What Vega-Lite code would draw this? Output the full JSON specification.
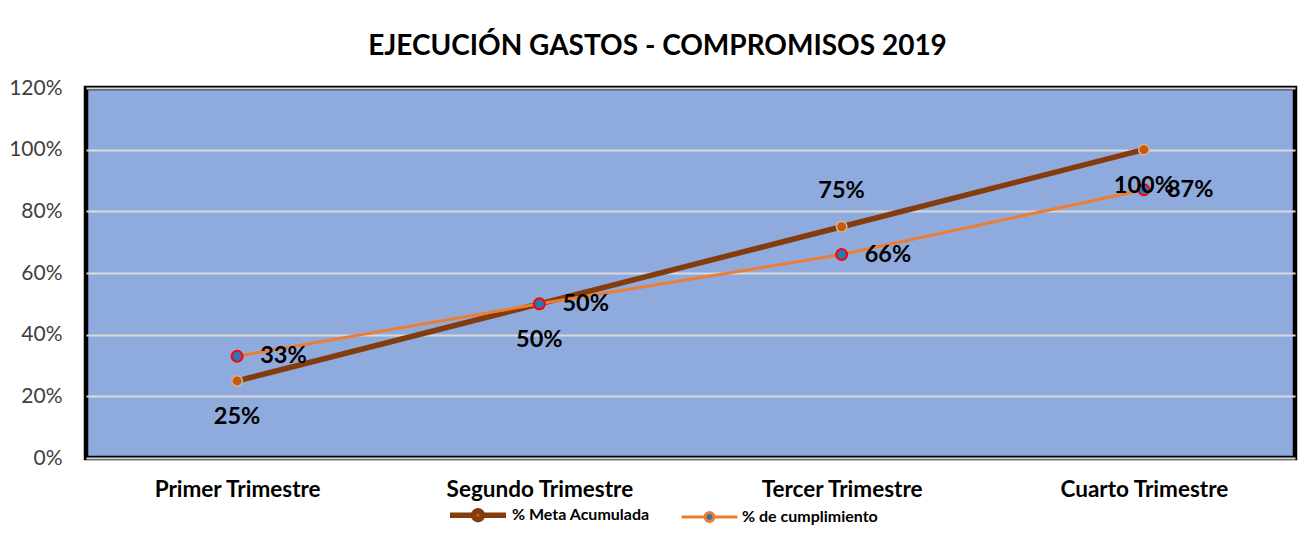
{
  "$schema": "https://vega.github.io/schema/vega-lite/v6.json",
  "width": 1209,
  "height": 370,
  "autosize": {"type": "none"},
  "padding": {"left": 86, "top": 88, "right": 20, "bottom": 86},
  "background": "#ffffff",
  "title": {
    "text": "EJECUCIÓN GASTOS - COMPROMISOS 2019",
    "font": "Lato",
    "fontSize": 28,
    "fontWeight": "bold",
    "color": "#000000",
    "anchor": "middle",
    "frame": "group",
    "dx": -33,
    "offset": 16
  },
  "config": {
    "font": "Lato",
    "view": {"fill": "#8FAADC", "stroke": "#000000", "strokeWidth": 4.5}
  },
  "data": {
    "values": [
      {"trimestre": "Primer Trimestre", "serie": "% Meta Acumulada", "valor": 0.25},
      {"trimestre": "Segundo Trimestre", "serie": "% Meta Acumulada", "valor": 0.50},
      {"trimestre": "Tercer Trimestre", "serie": "% Meta Acumulada", "valor": 0.75},
      {"trimestre": "Cuarto Trimestre", "serie": "% Meta Acumulada", "valor": 1.00},
      {"trimestre": "Primer Trimestre", "serie": "% de cumplimiento", "valor": 0.33},
      {"trimestre": "Segundo Trimestre", "serie": "% de cumplimiento", "valor": 0.50},
      {"trimestre": "Tercer Trimestre", "serie": "% de cumplimiento", "valor": 0.66},
      {"trimestre": "Cuarto Trimestre", "serie": "% de cumplimiento", "valor": 0.87}
    ]
  },
  "encoding": {
    "x": {
      "field": "trimestre",
      "type": "ordinal",
      "sort": ["Primer Trimestre", "Segundo Trimestre", "Tercer Trimestre", "Cuarto Trimestre"],
      "scale": {"type": "point", "padding": 0.5},
      "axis": {
        "title": null,
        "labelAngle": 0,
        "labelFont": "Lato",
        "labelFontSize": 22.5,
        "labelFontWeight": "bold",
        "labelColor": "#000000",
        "labelPadding": 20,
        "labelLimit": 400,
        "ticks": false,
        "domain": false,
        "grid": false
      }
    },
    "y": {
      "field": "valor",
      "type": "quantitative",
      "scale": {"domain": [0, 1.2], "nice": false},
      "axis": {
        "title": null,
        "values": [0, 0.2, 0.4, 0.6, 0.8, 1.0, 1.2],
        "format": ".0%",
        "labelFont": "Lato",
        "labelFontSize": 21,
        "labelColor": "#404040",
        "labelPadding": 24,
        "ticks": false,
        "domain": false,
        "gridColor": "#D9D9D9",
        "gridWidth": 2
      }
    }
  },
  "layer": [
    {
      "mark": {"type": "line"},
      "encoding": {
        "stroke": {
          "field": "serie",
          "type": "nominal",
          "scale": {"domain": ["% Meta Acumulada", "% de cumplimiento"], "range": ["#843C0C", "#ED7D31"]},
          "legend": {
            "title": null,
            "orient": "none",
            "legendX": 361,
            "legendY": 396,
            "direction": "horizontal",
            "padding": 0,
            "symbolSize": 3136,
            "symbolType": "M-1,0H-0.18M0.18,0H1M-0.16,0A0.16,0.16,0,1,1,0.16,0A0.16,0.16,0,1,1,-0.16,0Z",
            "symbolStrokeWidth": 3,
            "symbolOpacity": 1,
            "labelFont": "Lato",
            "labelFontSize": 16,
            "labelFontWeight": "bold",
            "labelColor": "#000000",
            "labelOffset": 3,
            "columnPadding": 25
          }
        },
        "strokeWidth": {
          "field": "serie",
          "type": "nominal",
          "scale": {"domain": ["% Meta Acumulada", "% de cumplimiento"], "range": [5.5, 3]},
          "legend": null
        }
      }
    },
    {
      "transform": [{"filter": "datum.serie === '% Meta Acumulada'"}],
      "mark": {"type": "point", "filled": true, "size": 110, "stroke": "#D9B38F", "strokeWidth": 1.5, "opacity": 1},
      "encoding": {
        "fill": {
          "field": "serie",
          "type": "nominal",
          "scale": {"domain": ["% Meta Acumulada", "% de cumplimiento"], "range": ["#C55A11", "#2E75B6"]},
          "legend": {
            "title": null,
            "orient": "none",
            "legendX": 361,
            "legendY": 396,
            "direction": "horizontal",
            "padding": 0,
            "symbolSize": 3136,
            "symbolType": "M-1,0H-0.18M0.18,0H1M-0.16,0A0.16,0.16,0,1,1,0.16,0A0.16,0.16,0,1,1,-0.16,0Z",
            "symbolStrokeWidth": 3,
            "symbolOpacity": 1,
            "labelFont": "Lato",
            "labelFontSize": 16,
            "labelFontWeight": "bold",
            "labelColor": "#000000",
            "labelOffset": 3,
            "columnPadding": 25
          }
        }
      }
    },
    {
      "transform": [{"filter": "datum.serie === '% de cumplimiento'"}],
      "mark": {"type": "point", "filled": true, "size": 120, "stroke": "#FF0000", "strokeWidth": 2, "opacity": 1},
      "encoding": {
        "fill": {
          "field": "serie",
          "type": "nominal",
          "scale": {"domain": ["% Meta Acumulada", "% de cumplimiento"], "range": ["#C55A11", "#2E75B6"]},
          "legend": {
            "title": null,
            "orient": "none",
            "legendX": 361,
            "legendY": 396,
            "direction": "horizontal",
            "padding": 0,
            "symbolSize": 3136,
            "symbolType": "M-1,0H-0.18M0.18,0H1M-0.16,0A0.16,0.16,0,1,1,0.16,0A0.16,0.16,0,1,1,-0.16,0Z",
            "symbolStrokeWidth": 3,
            "symbolOpacity": 1,
            "labelFont": "Lato",
            "labelFontSize": 16,
            "labelFontWeight": "bold",
            "labelColor": "#000000",
            "labelOffset": 3,
            "columnPadding": 25
          }
        }
      }
    },
    {
      "transform": [{"filter": "datum.serie === '% Meta Acumulada' && datum.trimestre !== 'Tercer Trimestre'"}],
      "mark": {"type": "text", "dy": 36, "align": "center", "baseline": "middle", "font": "Lato", "fontSize": 23.5, "fontWeight": "bold", "color": "#000000"},
      "encoding": {"text": {"field": "valor", "type": "quantitative", "format": ".0%"}}
    },
    {
      "transform": [{"filter": "datum.serie === '% Meta Acumulada' && datum.trimestre === 'Tercer Trimestre'"}],
      "mark": {"type": "text", "dy": -36, "align": "center", "baseline": "middle", "font": "Lato", "fontSize": 23.5, "fontWeight": "bold", "color": "#000000"},
      "encoding": {"text": {"field": "valor", "type": "quantitative", "format": ".0%"}}
    },
    {
      "transform": [{"filter": "datum.serie === '% de cumplimiento'"}],
      "mark": {"type": "text", "dx": 23, "align": "left", "baseline": "middle", "font": "Lato", "fontSize": 23.5, "fontWeight": "bold", "color": "#000000"},
      "encoding": {"text": {"field": "valor", "type": "quantitative", "format": ".0%"}}
    }
  ]
}
